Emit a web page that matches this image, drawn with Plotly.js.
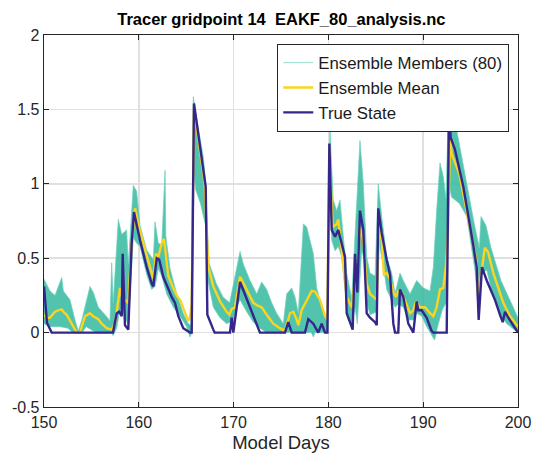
<!DOCTYPE html>
<html>
<head>
<meta charset="utf-8">
<script src="https://cdn.plot.ly/plotly-3.0.1.min.js"></script>
<style>html,body{margin:0;padding:0;background:#fff;}#chart{width:534px;height:457px;}</style>
</head>
<body>
<div id="chart"></div>
<script>
// True state
const trueDays = [150.0,150.32,150.81,157.28,157.67,157.94,158.2,158.3,158.54,158.89,159.25,159.49,160.13,160.83,161.36,161.53,161.89,162.16,162.58,163.11,163.47,163.82,164.17,164.69,165.4,165.58,165.82,167.06,167.23,167.86,168.0,169.62,169.8,169.97,170.68,172.78,175.42,175.77,176.13,177.53,177.88,178.41,178.93,179.29,179.64,179.9,180.1,180.35,180.7,181.04,181.22,181.75,181.93,182.56,182.81,183.05,183.33,183.68,184.04,184.39,184.92,185.1,185.26,185.62,186.15,186.5,186.85,187.03,187.37,187.55,187.9,188.43,188.96,189.31,189.48,189.84,190.37,190.9,191.07,192.48,192.72,192.9,193.35,194.23,195.3,195.64,195.85,196.2,196.7,197.05,197.57,198.1,198.39,198.63,198.98,200.0];
const trueVals = [0.31,0.065,0.0,0.0,0.13,0.14,0.11,0.53,0.05,0.02,0.6,0.81,0.62,0.44,0.33,0.31,0.5,0.49,0.375,0.29,0.24,0.2,0.11,0.03,0.0,0.0,1.54,0.98,0.12,0.02,0.0,0.0,0.1,0.0,0.34,0.0,0.0,0.07,0.0,0.0,0.09,0.06,0.0,0.06,0.0,0.0,1.27,0.69,0.645,0.69,0.645,0.51,0.13,0.02,0.53,0.27,0.82,0.69,0.13,0.1,0.07,0.05,0.835,0.67,0.49,0.39,0.06,0.0,0.0,0.29,0.24,0.06,0.0,0.21,0.15,0.15,0.1,0.01,0.0,0.0,1.5,1.31,1.23,0.98,0.58,0.44,0.085,0.44,0.35,0.3,0.22,0.12,0.07,0.14,0.1,0.0];

// Ensemble mean
const meanDays = [150.0,150.32,150.63,151.16,151.51,151.87,152.04,152.39,152.92,153.45,153.8,154.32,154.85,155.2,155.73,156.09,156.61,157.14,157.49,157.84,158.02,158.2,158.54,158.89,159.25,159.6,160.13,160.83,161.36,161.53,161.81,162.06,162.42,162.66,162.87,163.11,163.64,164.0,164.35,164.87,165.22,165.4,165.58,165.82,166.8,166.95,167.1,167.2,167.35,167.86,168.57,169.27,169.55,169.8,170.15,170.68,171.03,171.55,172.08,172.44,172.96,173.49,174.19,174.89,175.42,175.95,176.3,176.58,176.83,177.18,177.71,178.24,178.59,179.11,179.64,179.88,180.1,180.45,180.88,181.04,181.22,181.75,181.93,182.46,182.81,183.05,183.33,183.68,184.04,184.39,184.74,185.1,185.34,185.62,185.86,186.15,186.5,186.85,187.13,187.37,187.73,188.08,188.61,188.96,189.24,189.66,190.19,190.72,191.07,191.42,191.77,192.12,192.4,192.6,192.75,192.85,193.0,193.8,195.6,195.8,196.5,196.85,197.4,198.45,199.15,200.0];
const meanVals = [0.12,0.1,0.1,0.14,0.15,0.156,0.14,0.12,0.06,0.0,0.0,0.11,0.13,0.11,0.09,0.06,0.03,0.02,0.06,0.2,0.3,0.24,0.22,0.2,0.6,0.835,0.68,0.51,0.4,0.365,0.53,0.51,0.6,0.63,0.51,0.38,0.3,0.25,0.22,0.13,0.08,0.1,0.2,1.51,1.09,1.0,0.76,0.58,0.44,0.31,0.21,0.14,0.12,0.16,0.17,0.375,0.33,0.26,0.2,0.185,0.17,0.12,0.06,0.03,0.01,0.13,0.14,0.1,0.05,0.15,0.22,0.28,0.275,0.22,0.11,0.09,1.23,0.71,0.73,0.76,0.66,0.35,0.24,0.17,0.375,0.4,0.71,0.62,0.33,0.26,0.24,0.22,0.71,0.62,0.39,0.4,0.36,0.27,0.24,0.28,0.27,0.21,0.13,0.15,0.21,0.17,0.17,0.13,0.11,0.17,0.29,0.3,0.45,0.64,1.0,1.32,1.2,1.07,0.49,0.24,0.57,0.54,0.4,0.2,0.11,0.04];

// Ensemble members (80): upper and lower envelope of the spread
const ensUpperDays = [150.0,150.63,151.16,151.87,152.04,152.74,153.27,153.62,153.97,154.85,155.2,155.73,156.44,156.96,157.14,157.3,157.84,158.2,158.71,158.9,159.42,159.77,160.13,160.83,161.53,161.71,162.06,162.42,162.77,162.85,163.29,164.0,164.69,165.22,165.5,165.75,166.1,166.8,167.0,167.2,167.4,168.17,168.88,169.58,170.29,170.68,171.03,171.73,172.44,172.96,173.49,174.02,174.54,175.24,175.6,176.13,176.48,176.83,177.36,177.71,178.06,178.41,178.77,179.29,179.82,180.16,180.51,180.87,181.22,181.57,181.93,182.46,182.81,183.33,183.68,184.04,184.39,184.92,185.26,185.62,186.15,186.68,187.03,187.55,187.9,188.61,189.31,190.01,190.72,191.07,191.42,191.77,192.12,192.4,192.7,193.2,193.48,194.69,195.39,195.92,196.1,196.62,197.15,198.2,199.26,200.0];
const ensUpperVals = [0.36,0.28,0.25,0.37,0.28,0.22,0.085,0.01,0.08,0.31,0.27,0.17,0.12,0.08,0.47,0.2,0.76,0.66,0.69,0.46,0.99,0.95,0.72,0.555,0.49,0.745,0.6,0.59,1.09,0.65,0.43,0.26,0.13,0.06,0.05,1.585,1.44,1.18,1.05,0.7,0.47,0.33,0.24,0.2,0.44,0.545,0.46,0.35,0.26,0.34,0.29,0.2,0.13,0.06,0.26,0.3,0.24,0.13,0.73,0.71,0.62,0.53,0.3,0.17,0.08,1.38,0.89,0.82,0.89,0.65,0.4,0.23,0.69,1.29,1.0,0.51,0.4,0.38,1.0,0.78,0.51,0.4,0.26,0.4,0.35,0.26,0.35,0.3,0.28,0.44,0.82,1.14,1.05,0.9,1.6,1.4,1.38,0.96,0.73,0.57,0.78,0.72,0.57,0.35,0.2,0.1];
const ensLowerDays = [150.0,150.63,151.69,152.5,153.06,154.0,154.46,155.2,155.73,157.14,157.28,157.67,157.94,158.2,158.89,159.07,159.42,159.77,160.13,160.83,161.36,161.71,162.06,162.42,162.94,163.64,164.35,165.05,165.4,165.6,165.8,166.0,166.5,167.15,167.3,167.86,168.57,169.27,169.97,170.33,170.68,171.38,172.08,172.78,173.49,178.2,178.41,178.6,179.9,180.1,180.35,180.7,181.04,181.4,181.75,182.1,182.46,182.81,183.05,183.33,183.5,183.86,184.04,184.39,185.1,185.34,185.8,186.15,186.68,187.03,187.37,187.9,188.43,188.96,189.31,189.84,190.37,190.9,191.2,191.56,192.0,192.4,192.7,193.0,193.8,194.6,195.46,195.82,196.17,196.7,197.22,198.1,198.8,200.0];
const ensLowerVals = [0.06,0.04,0.04,0.03,0.0,0.0,0.04,0.01,0.0,0.0,-0.02,0.03,0.13,0.17,0.05,0.24,0.64,0.6,0.58,0.39,0.29,0.31,0.43,0.38,0.26,0.17,0.11,0.04,-0.03,0.0,1.1,0.96,0.87,0.69,0.35,0.17,0.1,0.06,0.08,0.17,0.22,0.14,0.07,0.03,0.0,0.0,-0.03,0.0,0.0,1.1,0.62,0.55,0.58,0.51,0.28,0.085,0.06,0.17,0.06,0.42,0.55,0.48,0.2,0.12,0.14,0.6,0.45,0.29,0.22,0.17,0.19,0.17,0.085,0.085,0.13,0.11,0.04,-0.02,-0.05,0.05,0.15,0.2,1.0,0.91,0.87,0.78,0.42,0.15,0.4,0.42,0.28,0.13,0.06,0.0];

// Axis ticks
const xTickVals = [150,160,170,180,190,200];
const yTickVals = [-0.5,0,0.5,1,1.5,2];
const yTickText = ['-0.5','0','0.5','1','1.5','2'];

const teal = 'rgba(52,186,160,0.85)';
const tealLine = 'rgba(110,208,190,0.9)';
const font = '"Liberation Sans", Arial, Helvetica, sans-serif';

const data = [
  {x: ensLowerDays, y: ensLowerVals, type: 'scatter', mode: 'lines',
   name: 'Ensemble Members (80)', line: {color: tealLine, width: 0.8}, showlegend: true},
  {x: ensUpperDays, y: ensUpperVals, type: 'scatter', mode: 'lines',
   name: 'ens upper', fill: 'tonexty', fillcolor: teal,
   line: {color: tealLine, width: 0.8}, showlegend: false},
  {x: meanDays, y: meanVals, type: 'scatter', mode: 'lines',
   name: 'Ensemble Mean', line: {color: 'rgb(250,212,30)', width: 2.4}},
  {x: trueDays, y: trueVals, type: 'scatter', mode: 'lines',
   name: 'True State', line: {color: 'rgb(52,38,138)', width: 2.4}}
];

const axisCommon = {
  showline: true, linecolor: '#262626', linewidth: 1.3, mirror: 'allticks',
  ticks: 'inside', ticklen: 5, tickwidth: 1, tickcolor: '#262626',
  showgrid: true, gridcolor: '#e0e0e0', gridwidth: 1.5, zeroline: false,
  tickfont: {family: font, size: 16, color: '#262626'}
};

const layout = {
  width: 534, height: 457,
  margin: {l: 44, r: 16, t: 35, b: 50, pad: 0},
  paper_bgcolor: '#ffffff', plot_bgcolor: '#ffffff',
  font: {family: font, color: '#262626'},
  title: {text: '<b>Tracer gridpoint 14\u00a0\u00a0EAKF_80_analysis.nc</b>',
          font: {family: font, size: 16.5, color: '#000'},
          x: 0.527, xanchor: 'center', y: 0.958, yanchor: 'middle', yref: 'container'},
  xaxis: Object.assign({}, axisCommon, {
    range: [150, 200], tickvals: xTickVals,
    title: {text: 'Model Days', font: {family: font, size: 18.5, color: '#262626'}, standoff: 6}
  }),
  yaxis: Object.assign({}, axisCommon, {
    range: [-0.5, 2], tickvals: yTickVals, ticktext: yTickText
  }),
  legend: {x: 0.981, xanchor: 'right', y: 0.976, yanchor: 'top', traceorder: 'normal',
           bgcolor: '#ffffff', bordercolor: '#262626', borderwidth: 1.3,
           font: {family: font, size: 16.8, color: '#1a1a1a'}, tracegroupgap: 0},
  showlegend: true
};

Plotly.newPlot('chart', data, layout, {displayModeBar: false, staticPlot: true});
</script>
</body>
</html>
